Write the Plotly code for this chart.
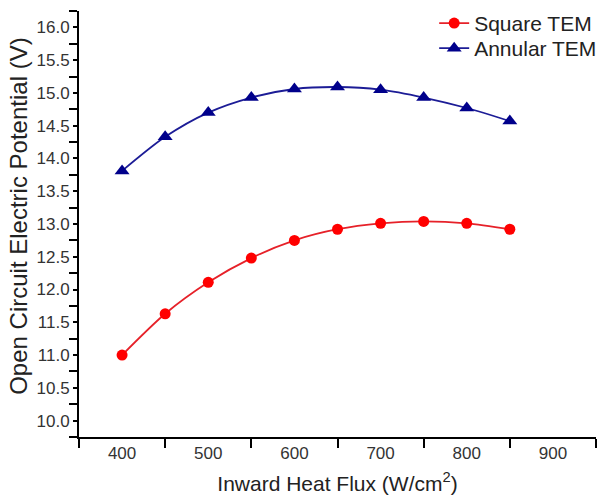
import plotly.graph_objects as go

heat_flux = [400, 450, 500, 550, 600, 650, 700, 750, 800, 850]
square_tem = [11.00, 11.63, 12.11, 12.48, 12.75, 12.92, 13.01, 13.04, 13.01, 12.92]
annular_tem = [13.81, 14.33, 14.70, 14.93, 15.06, 15.09, 15.05, 14.93, 14.77, 14.57]

fig = go.Figure()
fig.add_trace(go.Scatter(
    x=heat_flux, y=square_tem, name="Square TEM", mode="lines+markers",
    line=dict(color="#e62129", width=1.8, shape="spline", smoothing=0.8),
    marker=dict(symbol="circle", size=11, color="#ff0000"),
    legend="legend",
))
fig.add_trace(go.Scatter(
    x=heat_flux, y=annular_tem, name="Annular TEM", mode="lines+markers",
    line=dict(color="#1c1c96", width=1.8, shape="spline", smoothing=0.8),
    marker=dict(symbol="triangle-up", size=13, color="#00008b"),
    legend="legend2",
))

tick_font = dict(family="Arial, Liberation Sans", size=17, color="#333333")
title_color = "#222222"

axis_common = dict(
    showline=True, linecolor="black", linewidth=2, mirror=False,
    tickwidth=2, tickcolor="black",
    showgrid=False, zeroline=False, tickfont=tick_font,
)

fig.update_xaxes(
    range=[350, 950], dtick=100, tick0=0, ticks="",
    minor=dict(dtick=50, tick0=0, ticks="outside", ticklen=9, tickwidth=2, tickcolor="black"),
    title=dict(text="Inward Heat Flux (W/cm<sup>2</sup>)",
               font=dict(family="Arial, Liberation Sans", size=21, color=title_color), standoff=14),
    **axis_common,
)
fig.update_yaxes(
    range=[9.75, 16.25], dtick=0.5, tick0=0, tickformat=".1f", ticks="outside", ticklen=4,
    minor=dict(dtick=0.25, tick0=0, ticks="outside", ticklen=8, tickwidth=2, tickcolor="black"),
    **axis_common,
)

fig.add_annotation(
    text="Open Circuit Electric Potential (V)", textangle=-90,
    xref="paper", yref="paper", x=(18 - 79) / 524, y=(437 - 216) / 426,
    xanchor="center", yanchor="middle", showarrow=False,
    font=dict(family="Arial, Liberation Sans", size=24, color=title_color),
)

legend_font = dict(family="Arial, Liberation Sans", size=21, color=title_color)
fig.update_layout(
    width=603, height=499,
    margin=dict(l=79, r=1, t=11, b=62),
    plot_bgcolor="white", paper_bgcolor="white",
    legend=dict(x=0.687, xanchor="left", y=1.019, yanchor="top",
                font=legend_font, bgcolor="rgba(0,0,0,0)"),
    legend2=dict(x=0.687, xanchor="left", y=0.960, yanchor="top",
                 font=legend_font, bgcolor="rgba(0,0,0,0)"),
    showlegend=True,
)

fig.write_html("out.html")
